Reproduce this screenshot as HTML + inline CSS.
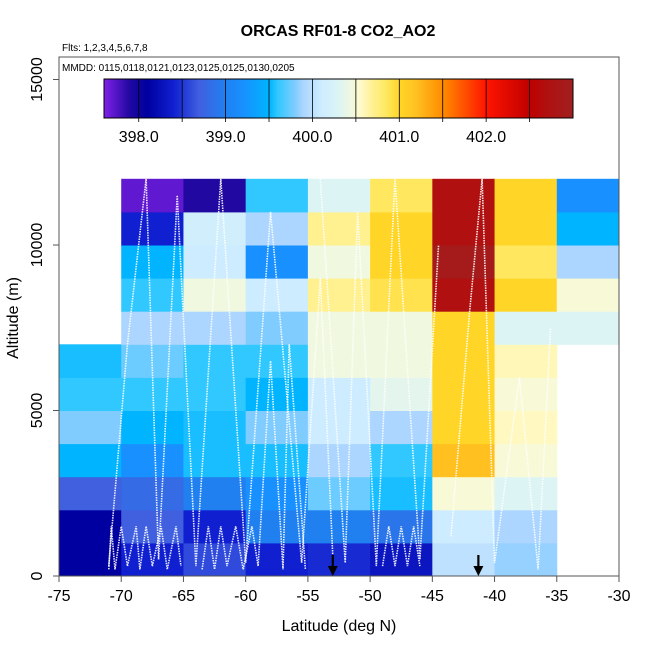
<!DOCTYPE html>
<html><head><meta charset="utf-8"><style>
body{margin:0;background:#fff;font-family:"Liberation Sans",sans-serif}
svg text{font-family:"Liberation Sans",sans-serif}
</style></head><body>
<svg id="c" width="650" height="650" xmlns="http://www.w3.org/2000/svg">
<rect width="650" height="650" fill="#fff"/>
<g id="cells"></g>
<g id="tracks"></g>
<g id="axes"></g>
<g id="cbar"></g>
<text x="338" y="36" text-anchor="middle" font-size="16" font-weight="bold">ORCAS RF01-8 CO2_AO2</text>
<text x="62" y="51" font-size="10">Flts: 1,2,3,4,5,6,7,8</text>
<text x="62" y="71" font-size="10">MMDD: 0115,0118,0121,0123,0125,0125,0130,0205</text>
<text x="339" y="631" text-anchor="middle" font-size="16">Latitude (deg N)</text>
<text transform="translate(18,318) rotate(-90)" text-anchor="middle" font-size="16">Altitude (m)</text>
</svg>
<script>
const latEdges=[-75,-70,-65,-60,-55,-50,-45,-40,-35,-30];
const altEdges=[0,1000,2000,3000,4000,5000,6000,7000,8000,9000,10000,11000,12000];
const row0=[398.1,398.4,398.6,398.4,398.45,398.3,400.0,399.85,null];
const row1=[398.1,398.7,398.4,399.0,399.0,398.9,400.1,399.9,null];
const row2=[398.7,398.8,399.0,399.2,399.75,399.55,400.5,400.3,null];
const row3=[399.5,399.2,399.55,399.55,399.9,399.6,401.2,400.5,null];
const row4=[399.8,399.5,399.55,399.8,400.1,399.9,401.0,400.58,null];
const row5=[399.6,399.6,399.6,399.5,400.1,400.35,401.0,400.5,null];
const row6=[399.55,399.75,399.6,399.6,400.45,400.45,401.0,400.6,null];
const row7=[null,399.9,399.9,399.8,400.45,400.45,401.0,400.3,400.3];
const row8=[null,399.6,400.45,400.1,400.7,400.9,402.7,401.0,400.5];
const row9=[null,399.5,400.1,399.2,400.45,401.0,402.9,400.85,399.9];
const row10=[null,398.4,400.15,399.9,400.7,401.0,402.7,401.0,399.5];
const row11=[null,397.7,397.9,399.6,400.3,400.85,402.7,401.0,399.2];
const grid=[row0,row1,row2,row3,row4,row5,row6,row7,row8,row9,row10,row11];
const xTicks=[-75,-70,-65,-60,-55,-50,-45,-40,-35,-30];
const yTicks=[0,5000,10000,15000];
const cbTicks=[398.0,399.0,400.0,401.0,402.0];
const cbBreaks=[398.0,398.5,399.0,399.5,400.0,400.5,401.0,401.5,402.0,402.5];
const arrowLats=[-53,-41.3];
const track1=[[-71,200],[-70.8,1500],[-70.5,200],[-70,1500],[-69.5,300],[-68.8,1500],[-68.5,200],[-68,1500],[-67.5,300],[-66.8,1500],[-66.3,200],[-65.6,1500],[-65.2,300]];
const track2=[[-63.5,200],[-63,1500],[-62.5,200],[-62,1500],[-61.5,300],[-60.8,1500],[-60.2,200],[-59.5,1500],[-59,300],[-58,6500],[-57,200],[-56.5,7000],[-55.2,200]];
const track3=[[-71,300],[-69.5,7000],[-68,12000],[-67,500],[-65.5,11500],[-64,300],[-62,12000],[-60,400],[-58,11000],[-55.5,400],[-54,9000],[-53,600]];
const track4=[[-49,300],[-48.5,1500],[-48,300],[-47.5,1500],[-47,300],[-46.5,1500],[-46,300]];
const track5=[[-43.5,1200],[-42,8000],[-41,12000],[-40,400],[-38,6000],[-36.5,200],[-35.5,7500]];
const track6=[[-54,12000],[-52,400],[-51,11000],[-49.5,300],[-48,12000],[-46,500],[-44.5,10000]];
const tracks=[track1,track2,track3,track4,track5,track6];

const X0=59,X1=619,Y0=576,PPM=0.0331;
const xs=v=>X0+(v+75)/45*(X1-X0);
const ys=v=>Y0-v*PPM;
const stops=[[397.6,[128,32,232]],[397.9,[32,8,160]],[398.1,[0,0,160]],[398.4,[16,32,208]],[398.7,[64,96,224]],[399.0,[32,128,240]],[399.2,[24,144,255]],[399.5,[0,180,255]],[399.6,[48,200,255]],[399.8,[128,204,255]],[399.9,[172,214,255]],[400.1,[205,236,255]],[400.3,[220,244,244]],[400.45,[240,248,224]],[400.55,[255,250,204]],[400.7,[255,240,144]],[400.85,[255,232,96]],[401.0,[255,214,40]],[401.2,[255,192,32]],[401.5,[255,140,0]],[402.0,[255,20,0]],[402.5,[192,0,0]],[402.7,[176,16,16]],[403.0,[160,32,32]]];
function col(v){
  if(v<=stops[0][0])return 'rgb('+stops[0][1]+')';
  for(let i=1;i<stops.length;i++){if(v<=stops[i][0]){const a=stops[i-1],b=stops[i],t=(v-a[0])/(b[0]-a[0]);
    return 'rgb('+a[1].map((c,k)=>Math.round(c+(b[1][k]-c)*t)).join(',')+')';}}
  return 'rgb('+stops[stops.length-1][1]+')';
}
const NS='http://www.w3.org/2000/svg';
function mk(t,p,a){const e=document.createElementNS(NS,t);for(const k in a)e.setAttribute(k,a[k]);p.appendChild(e);return e;}
const cells=document.getElementById('cells');
grid.forEach((row,r)=>row.forEach((v,c)=>{if(v===null)return;
  const x=xs(latEdges[c]),y=ys(altEdges[r+1]);
  const e=mk('rect',cells,{x:x,y:y,width:xs(latEdges[c+1])-x+0.5,height:ys(altEdges[r])-y+0.5,fill:col(v)});
  
  
}));
const tg=document.getElementById('tracks');
tracks.forEach(t=>{const e=mk('polyline',tg,{points:t.map(p=>xs(p[0])+','+ys(p[1])).join(' '),fill:'none',stroke:'#fff','stroke-width':1.6,'stroke-dasharray':'1.5 1','stroke-opacity':0.9});
  
  
});
const ax=document.getElementById('axes');
arrowLats.forEach(l=>{const x=xs(l);
  const g=mk('g',ax,{});
  
  
  mk('line',g,{x1:x,y1:555,x2:x,y2:572,stroke:'#000','stroke-width':2.2});
  mk('polygon',g,{points:(x-5)+',566 '+x+',576 '+(x+5)+',566',fill:'#000'});
});
mk('rect',ax,{x:X0,y:57,width:X1-X0,height:Y0-57,fill:'none',stroke:'#555','stroke-width':1});
xTicks.forEach(v=>{const x=xs(v);mk('line',ax,{x1:x,y1:Y0,x2:x,y2:Y0+6,stroke:'#555'});
  const t=mk('text',ax,{x:x,y:601,'text-anchor':'middle','font-size':16});t.textContent=v;
  
  });
yTicks.forEach(v=>{const y=ys(v);mk('line',ax,{x1:X0,y1:y,x2:X0-6,y2:y,stroke:'#555'});
  const t=mk('text',ax,{transform:'translate(42,'+y+') rotate(-90)','text-anchor':'middle','font-size':16});t.textContent=v;
  
  });
const cb=document.getElementById('cbar');
const CB0=104,CB1=573,CBT=79,CBB=118,V0=397.6,V1=403.0;
const cx=v=>CB0+(v-V0)/(V1-V0)*(CB1-CB0);
for(let i=0;i<(CB1-CB0);i++){const v=V0+(i+0.5)/(CB1-CB0)*(V1-V0);mk('rect',cb,{x:CB0+i,y:CBT,width:1.2,height:CBB-CBT,fill:col(v)});}
cbBreaks.forEach(v=>{const x=cx(v);mk('line',cb,{x1:x,y1:CBT,x2:x,y2:CBB+4,stroke:'#000','stroke-width':0.8});});
mk('rect',cb,{x:CB0,y:CBT,width:CB1-CB0,height:CBB-CBT,fill:'none',stroke:'#000','stroke-width':1});
cbTicks.forEach(v=>{const t=mk('text',cb,{x:cx(v),y:142,'text-anchor':'middle','font-size':16});t.textContent=v.toFixed(1);
  
  });
</script>
</body></html>
